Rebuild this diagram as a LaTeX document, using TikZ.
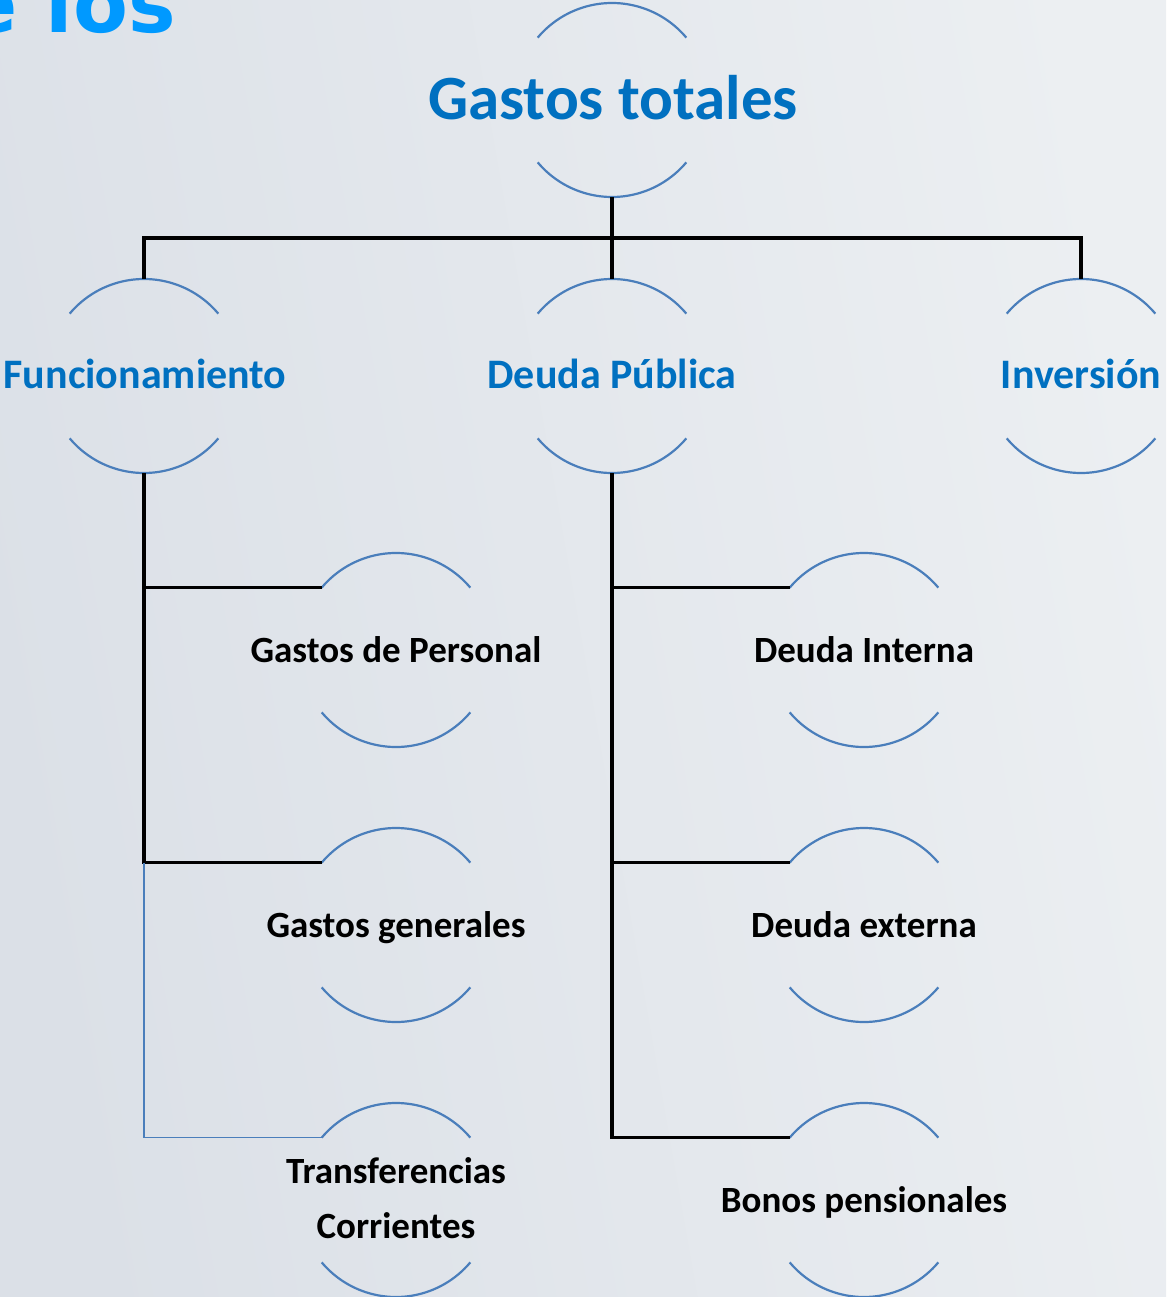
\documentclass[tikz,border=0pt]{standalone}
\usepackage{fontspec}
\setmainfont{Carlito}
\newfontfamily\titlefont{DejaVu Sans}
\definecolor{bgL}{RGB}{219,224,231}
\definecolor{bgR}{RGB}{236,239,242}
\definecolor{arcblue}{RGB}{74,126,187}
\definecolor{txtblue}{RGB}{0,112,192}
\definecolor{ttlblue}{RGB}{0,153,255}
\tikzset{
  ring/.style={circle, minimum size=194pt, inner sep=0pt, outer sep=0pt},
  arcline/.style={draw=arcblue, line width=2.2pt},
  conn/.style={draw=black, line width=3.2pt},
  blueconn/.style={draw=arcblue, line width=1.6pt},
  lblA/.style={anchor=base, text=txtblue, font=\fontsize{63}{70}\selectfont\bfseries, inner sep=0pt},
  lblB/.style={anchor=base, text=txtblue, font=\fontsize{42}{50}\selectfont\bfseries, inner sep=0pt},
  lblC/.style={anchor=base, text=black, font=\fontsize{37}{55}\selectfont\bfseries, inner sep=0pt, align=center},
}
\newcommand{\ringarcs}[1]{%
  \draw[arcline] (#1.40) arc[start angle=40, end angle=140, radius=97pt];
  \draw[arcline] (#1.220) arc[start angle=220, end angle=320, radius=97pt];
}
\begin{document}
\begin{tikzpicture}[x=1pt, y=-1pt]
\useasboundingbox (0,0) rectangle (1166,1297);
\shade[left color=bgL, right color=bgR, shading angle=100] (0,0) rectangle (1166,1297);
\clip (0,0) rectangle (1166,1297);

\node[anchor=base east, text=ttlblue, font=\titlefont\fontsize{80}{90}\selectfont\bfseries, inner sep=0pt] (ttl) at (176,33) {e los};

% rings
\node[ring] (gt) at (612,100) {};
\node[ring] (fun) at (144,376) {};
\node[ring] (dp) at (612,376) {};
\node[ring] (inv) at (1081,376) {};
\node[ring] (gp) at (396,650) {};
\node[ring] (gg) at (396,925) {};
\node[ring] (tc) at (396,1200) {};
\node[ring] (di) at (864,650) {};
\node[ring] (de) at (864,925) {};
\node[ring] (bp) at (864,1200) {};
\foreach \n in {gt,fun,dp,inv,gp,gg,tc,di,de,bp}{\ringarcs{\n}}

% labels
\node[lblA] (tgt) at (613,120) {Gastos totales};
\node[lblB] (tfun) at (145,388) {Funcionamiento};
\node[lblB] (tdp) at (612,388) {Deuda Pública};
\node[lblB] (tinv) at (1081,388) {Inversión};
\node[lblC] (tgp) at (396,662) {Gastos de Personal};
\node[lblC] (tgg) at (396,937) {Gastos generales};
\node[lblC] (ttc) at (396,1238) {Transferencias\\Corrientes};
\node[lblC] (tdi) at (864,662) {Deuda Interna};
\node[lblC] (tde) at (864,937) {Deuda externa};
\node[lblC] (tbp) at (864,1212) {Bonos pensionales};

% connectors
\coordinate (bus) at (612,238);
\draw[conn] (gt.south) -- (dp.north);
\draw[conn] (fun.north) |- (bus) -| (inv.north);
\draw[conn] (fun.south) |- (gp.140);
\draw[conn] (fun.south) |- (gg.140);
\draw[blueconn] (fun.south |- gg.140) |- (tc.140);
\draw[conn] (dp.south) |- (di.140);
\draw[conn] (dp.south) |- (de.140);
\draw[conn] (dp.south) |- (bp.140);
\end{tikzpicture}
\end{document}
